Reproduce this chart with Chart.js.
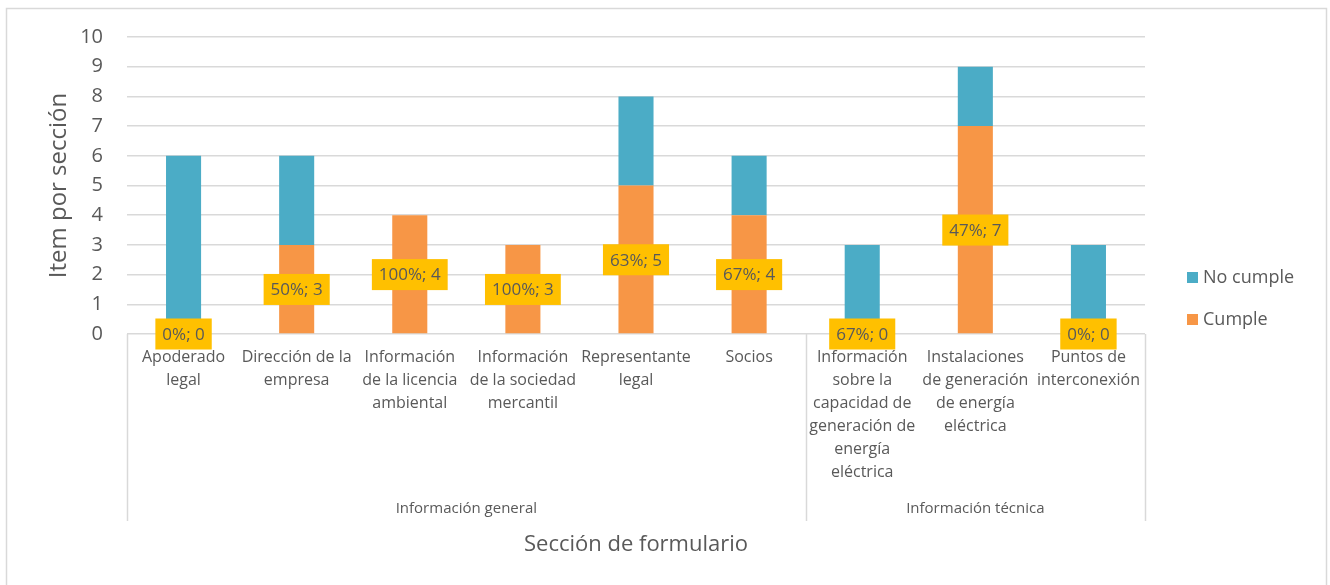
<!DOCTYPE html>
<html>
<head>
<meta charset="utf-8">
<script src="https://cdn.jsdelivr.net/npm/chart.js@4"></script>
<style>
  body { margin: 0; background: #fff; }
  #wrap { width: 1330px; height: 585px; }
</style>
</head>
<body>
<div id="wrap"><canvas id="chart"></canvas></div>
<script>
// Data
const categories = [
    ["Apoderado", "legal"],
    ["Dirección de la", "empresa"],
    ["Información", "de la licencia", "ambiental"],
    ["Información", "de la sociedad", "mercantil"],
    ["Representante", "legal"],
    ["Socios"],
    ["Información", "sobre la", "capacidad de", "generación de", "energía", "eléctrica"],
    ["Instalaciones", "de generación", "de energía", "eléctrica"],
    ["Puntos de", "interconexión"]
];
const cumple = [0, 3, 4, 3, 5, 4, 0, 7, 0];
const noCumple = [6, 3, 0, 0, 3, 2, 3, 2, 3];
const cumplePct = [0, 50, 100, 100, 63, 67, 67, 47, 0];
const groupNames = ["Información general", "Información técnica"];
const groupSizes = [6, 3];
const yTicks = [0, 1, 2, 3, 4, 5, 6, 7, 8, 9, 10];

const FONT = "'Open Sans', 'Noto Sans', sans-serif";
const TXT = "#595959";

// frame, group labels, separators, data labels, legend
const extras = {
    id: "extras",
    beforeDraw(chart){
        const ctx = chart.ctx;
        ctx.save();
        ctx.strokeStyle = "#D9D9D9";
        ctx.lineWidth = 1.5;
        ctx.strokeRect(6.5, 8.5, 1320, 600);
        ctx.restore();
    },
    afterDraw(chart){
        const ctx = chart.ctx;
        const x = chart.scales.x;
        const area = chart.chartArea;
        const half = (x.getPixelForValue(1) - x.getPixelForValue(0)) / 2;

        // group separators and group names
        ctx.save();
        ctx.strokeStyle = "#D9D9D9";
        ctx.lineWidth = 1.5;
        let start = 0;
        const edges = [0];
        groupSizes.forEach(n => { start += n; edges.push(start); });
        edges.forEach(i => {
            const px = Math.round(x.getPixelForValue(i) - half) + 0.5;
            ctx.beginPath();
            ctx.moveTo(px, area.bottom);
            ctx.lineTo(px, 521);
            ctx.stroke();
        });
        ctx.fillStyle = TXT;
        ctx.font = "15px " + FONT;
        ctx.textAlign = "center";
        ctx.textBaseline = "middle";
        groupNames.forEach((name, g) => {
            const a = x.getPixelForValue(edges[g]) - half;
            const b = x.getPixelForValue(edges[g + 1]) - half;
            ctx.fillText(name, (a + b) / 2, 509);
        });
        ctx.restore();

        // data labels for Cumple
        const meta = chart.getDatasetMeta(0);
        const y = chart.scales.y;
        ctx.save();
        ctx.font = "17px " + FONT;
        ctx.textAlign = "center";
        ctx.textBaseline = "middle";
        meta.data.forEach((bar, i) => {
            const text = cumplePct[i] + "%; " + cumple[i];
            const w = ctx.measureText(text).width + 14;
            const h = 31;
            const cy = y.getPixelForValue(cumple[i] / 2);
            ctx.fillStyle = "#FFC000";
            ctx.fillRect(bar.x - w / 2, cy - h / 2, w, h);
            ctx.fillStyle = TXT;
            ctx.fillText(text, bar.x, cy + 1);
        });
        ctx.restore();

        // legend (reversed order, like the reference)
        ctx.save();
        ctx.font = "18px " + FONT;
        ctx.textBaseline = "middle";
        const items = chart.data.datasets.slice().reverse();
        items.forEach((ds, k) => {
            const cy = 278 + k * 42;
            ctx.fillStyle = ds.backgroundColor;
            ctx.fillRect(1187, cy - 6, 11, 11);
            ctx.fillStyle = TXT;
            ctx.fillText(ds.label, 1203, cy);
        });
        ctx.restore();
    }
};

new Chart(document.getElementById("chart"), {
    type: "bar",
    data: {
        labels: categories,
        datasets: [{
            label: "Cumple",
            data: cumple,
            backgroundColor: "#F79646",
            categoryPercentage: 1,
            barPercentage: 0.31
        }, {
            label: "No cumple",
            data: noCumple,
            backgroundColor: "#4BACC6",
            categoryPercentage: 1,
            barPercentage: 0.31
        }]
    },
    options: {
        responsive: true,
        maintainAspectRatio: false,
        animation: false,
        layout: {
            padding: { top: 37, right: 185, left: 0, bottom: 0 }
        },
        plugins: {
            legend: { display: false },
            tooltip: { enabled: false }
        },
        scales: {
            x: {
                stacked: true,
                grid: { display: false, drawTicks: false },
                border: { display: false },
                ticks: {
                    color: TXT,
                    font: { family: FONT, size: 16, lineHeight: 1.44 },
                    padding: 12,
                    maxRotation: 0,
                    autoSkip: false
                },
                title: {
                    display: true,
                    text: "Sección de formulario",
                    color: TXT,
                    font: { family: FONT, size: 22 },
                    padding: { top: 0, bottom: 27 }
                },
                afterFit(s){ s.height = 251; }
            },
            y: {
                stacked: true,
                min: 0,
                max: 10,
                afterBuildTicks(s){ s.ticks = yTicks.map(v => ({ value: v })); },
                grid: { color: "#D9D9D9", lineWidth: 1.5, drawTicks: false },
                border: { display: false },
                ticks: {
                    color: TXT,
                    font: { family: FONT, size: 20 },
                    padding: 24
                },
                title: {
                    display: true,
                    text: "Item por sección",
                    color: TXT,
                    font: { family: FONT, size: 24 },
                    padding: { top: 45, bottom: 0 }
                },
                afterFit(s){ s.width = 127; }
            }
        }
    },
    plugins: [extras]
});
</script>
</body>
</html>
